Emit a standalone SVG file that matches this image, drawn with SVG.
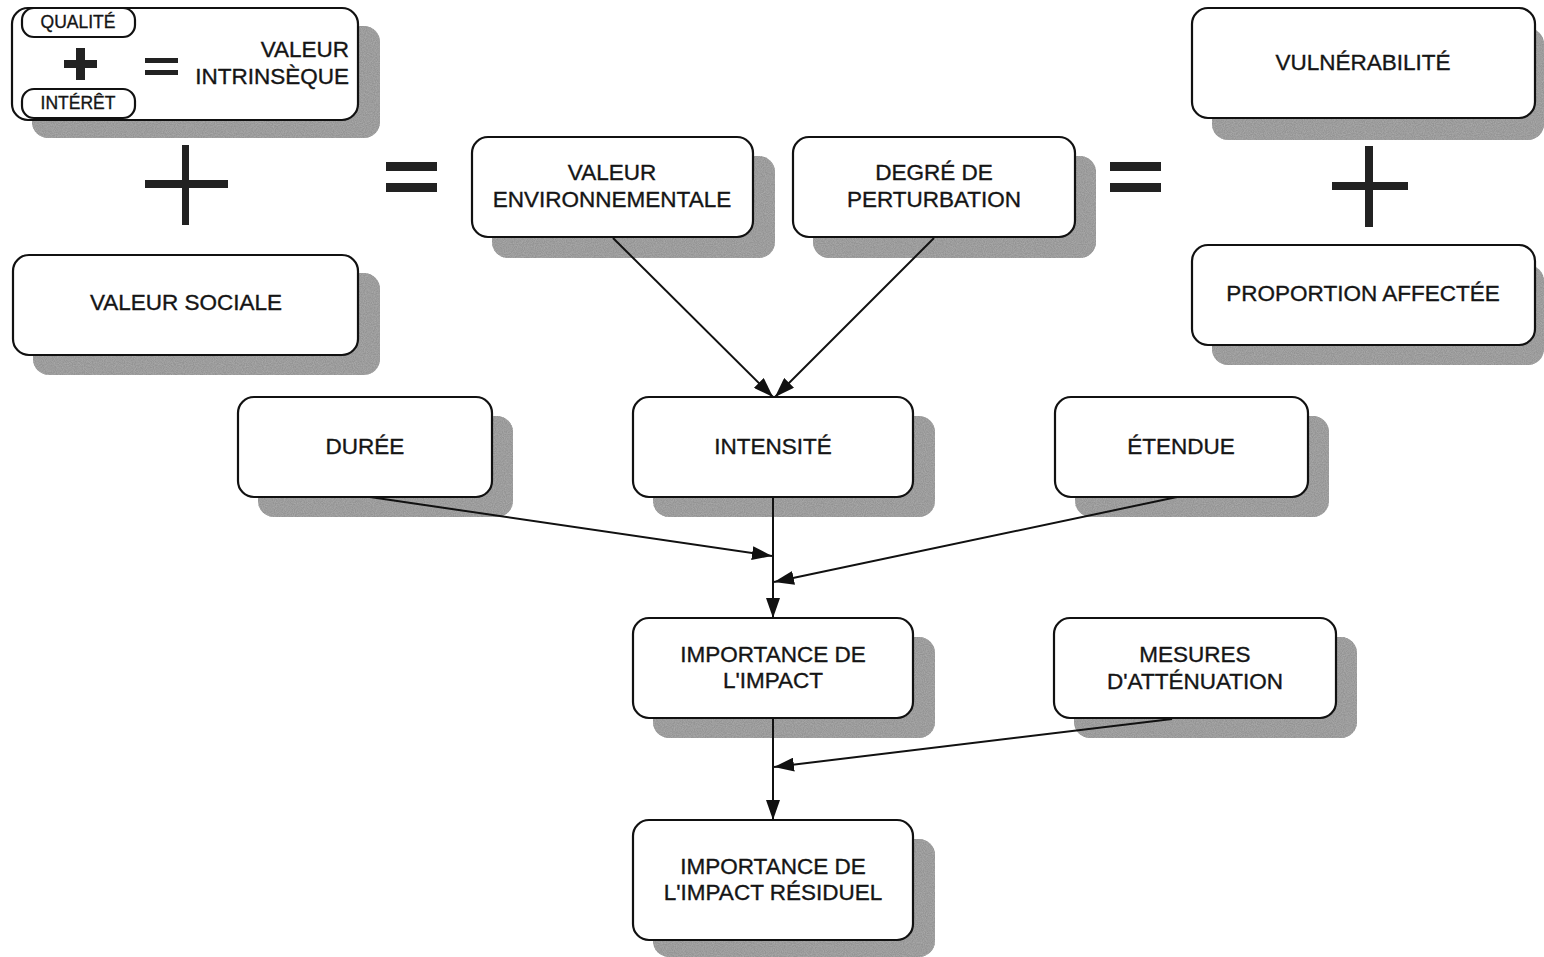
<svg xmlns="http://www.w3.org/2000/svg" width="1544" height="957" viewBox="0 0 1544 957">
<defs>
<filter id="grain" x="0" y="0" width="1" height="1">
<feTurbulence type="fractalNoise" baseFrequency="0.9" numOctaves="2" seed="3" result="n"/>
<feColorMatrix in="n" type="matrix" values="0 0 0 0 0.3  0 0 0 0 0.3  0 0 0 0 0.3  0 0 0 -2 1.6" result="g"/>
<feComposite in="g" in2="SourceAlpha" operator="in" result="s"/>
<feMerge><feMergeNode in="SourceGraphic"/><feMergeNode in="s"/></feMerge>
</filter>
<marker id="arr" viewBox="0 0 20 14" refX="20" refY="7" markerWidth="20" markerHeight="14" markerUnits="userSpaceOnUse" orient="auto">
<path d="M0,0 L20,7 L0,14 Z" fill="#111"/>
</marker>
</defs>
<style>
.box{fill:#fff;stroke:#111;stroke-width:2.2}
.sh{fill:#a8a8a8;filter:url(#grain)}
.t{font-family:"Liberation Sans",Arial,sans-serif;font-size:22.5px;fill:#151515;stroke:#151515;stroke-width:0.35;text-anchor:middle}
.ts{font-family:"Liberation Sans",Arial,sans-serif;font-size:17.5px;fill:#151515;stroke:#151515;stroke-width:0.35;text-anchor:middle}
.sym{fill:#222}
.c{stroke:#111;stroke-width:2;fill:none;marker-end:url(#arr)}
</style>
<rect width="1544" height="957" fill="#fff"/>

<g id="valeur-intrinseque">
<rect class="sh" x="32" y="26" width="348" height="112" rx="16"/>
<rect class="box" x="12" y="8" width="346" height="112" rx="16"/>
<rect class="box" x="22" y="8" width="113" height="29" rx="12"/>
<text class="ts" x="78" y="28">QUALITÉ</text>
<rect class="box" x="22" y="89" width="113" height="29" rx="12"/>
<text class="ts" x="78" y="109">INTÉRÊT</text>
<rect class="sym" x="64" y="60" width="33" height="8"/>
<rect class="sym" x="76" y="48" width="9" height="32"/>
<rect class="sym" x="145" y="58" width="33" height="5"/>
<rect class="sym" x="145" y="70" width="33" height="5"/>
<text class="t" x="349" y="57" style="text-anchor:end">VALEUR</text>
<text class="t" x="349" y="84" style="text-anchor:end">INTRINSÈQUE</text>
</g>

<g id="plus-left">
<rect class="sym" x="145" y="180" width="83" height="8"/>
<rect class="sym" x="182" y="145" width="7" height="80"/>
</g>
<g id="equals-left">
<rect class="sym" x="386" y="162" width="51" height="9"/>
<rect class="sym" x="386" y="183" width="51" height="9"/>
</g>

<g id="valeur-sociale">
<rect class="sh" x="33" y="273" width="347" height="102" rx="16"/>
<rect class="box" x="13" y="255" width="345" height="100" rx="16"/>
<text class="t" x="186" y="310">VALEUR SOCIALE</text>
</g>

<g id="valeur-env">
<rect class="sh" x="492" y="156" width="283" height="102" rx="16"/>
<rect class="box" x="472" y="137" width="281" height="100" rx="16"/>
<text class="t" x="612" y="180">VALEUR</text>
<text class="t" x="612" y="207">ENVIRONNEMENTALE</text>
</g>

<g id="degre-perturbation">
<rect class="sh" x="813" y="156" width="283" height="102" rx="16"/>
<rect class="box" x="793" y="137" width="282" height="100" rx="16"/>
<text class="t" x="934" y="180">DEGRÉ DE</text>
<text class="t" x="934" y="207">PERTURBATION</text>
</g>

<g id="equals-right">
<rect class="sym" x="1110" y="162" width="51" height="9"/>
<rect class="sym" x="1110" y="183" width="51" height="9"/>
</g>

<g id="vulnerabilite">
<rect class="sh" x="1212" y="28" width="332" height="112" rx="16"/>
<rect class="box" x="1192" y="8" width="343" height="110" rx="16"/>
<text class="t" x="1363" y="70">VULNÉRABILITÉ</text>
</g>

<g id="plus-right">
<rect class="sym" x="1332" y="182" width="76" height="8"/>
<rect class="sym" x="1365" y="146" width="8" height="81"/>
</g>

<g id="proportion">
<rect class="sh" x="1212" y="265" width="332" height="100" rx="16"/>
<rect class="box" x="1192" y="245" width="343" height="100" rx="16"/>
<text class="t" x="1363" y="301">PROPORTION AFFECTÉE</text>
</g>

<g id="duree">
<rect class="sh" x="258" y="416" width="255" height="101" rx="16"/>
<rect class="box" x="238" y="397" width="254" height="100" rx="16"/>
<text class="t" x="365" y="454">DURÉE</text>
</g>

<g id="intensite">
<rect class="sh" x="653" y="416" width="282" height="101" rx="16"/>
<rect class="box" x="633" y="397" width="280" height="100" rx="16"/>
<text class="t" x="773" y="454">INTENSITÉ</text>
</g>

<g id="etendue">
<rect class="sh" x="1075" y="416" width="254" height="101" rx="16"/>
<rect class="box" x="1055" y="397" width="253" height="100" rx="16"/>
<text class="t" x="1181" y="454">ÉTENDUE</text>
</g>

<g id="importance-impact">
<rect class="sh" x="653" y="637" width="282" height="101" rx="16"/>
<rect class="box" x="633" y="618" width="280" height="100" rx="16"/>
<text class="t" x="773" y="662">IMPORTANCE DE</text>
<text class="t" x="773" y="688">L'IMPACT</text>
</g>

<g id="mesures">
<rect class="sh" x="1074" y="637" width="283" height="101" rx="16"/>
<rect class="box" x="1054" y="618" width="282" height="100" rx="16"/>
<text class="t" x="1195" y="662">MESURES</text>
<text class="t" x="1195" y="689">D'ATTÉNUATION</text>
</g>

<g id="importance-residuel">
<rect class="sh" x="653" y="839" width="282" height="118" rx="16"/>
<rect class="box" x="633" y="820" width="280" height="120" rx="16"/>
<text class="t" x="773" y="874">IMPORTANCE DE</text>
<text class="t" x="773" y="900">L'IMPACT RÉSIDUEL</text>
</g>

<g id="connectors">
<line class="c" x1="613" y1="238" x2="773" y2="397"/>
<line class="c" x1="934" y1="238" x2="775" y2="397"/>
<line class="c" x1="773" y1="497" x2="773" y2="618"/>
<line class="c" x1="370" y1="497" x2="772" y2="556"/>
<line class="c" x1="1177" y1="497" x2="774" y2="582"/>
<line class="c" x1="773" y1="718" x2="773" y2="820"/>
<line class="c" x1="1172" y1="719" x2="774" y2="767"/>
</g>
</svg>
